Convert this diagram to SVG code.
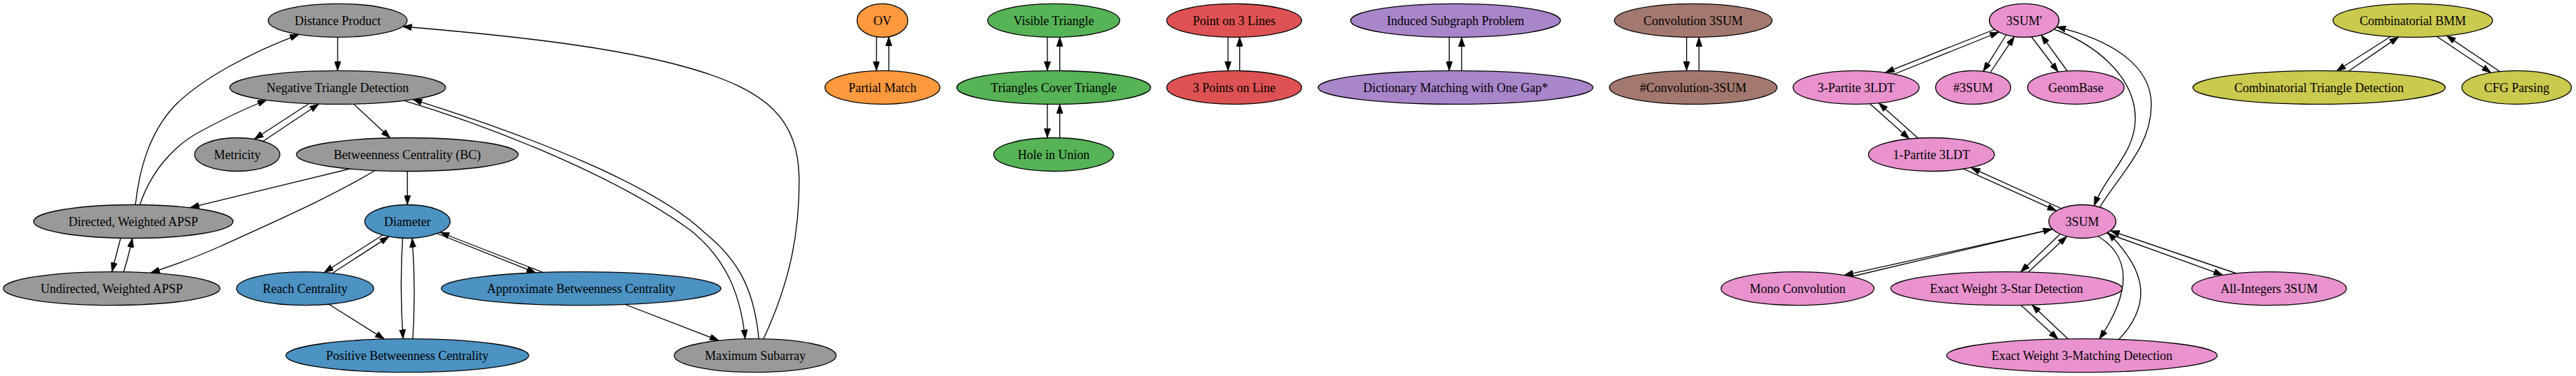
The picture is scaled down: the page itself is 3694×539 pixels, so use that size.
<svg xmlns="http://www.w3.org/2000/svg" width="3694" height="539" viewBox="0 0 3694 539">
<style>
.n ellipse{stroke:#000;stroke-width:1.33}
.n text{font-family:"Liberation Serif","Times New Roman",serif;font-size:18px;text-anchor:middle;fill:#000}
.gray ellipse{fill:#999999}.blue ellipse{fill:#4c92c3}.orange ellipse{fill:#ff993e}.green ellipse{fill:#56b356}
.red ellipse{fill:#de5253}.purple ellipse{fill:#a985ca}.brown ellipse{fill:#a3786f}.pink ellipse{fill:#e992ce}.olive ellipse{fill:#c9ca4e}
#edges path{fill:none;stroke:#000;stroke-width:1.33;marker-end:url(#ah)}
</style>
<defs>
<marker id="ah" viewBox="0 0 10 7" refX="10" refY="3.5" markerWidth="13.3" markerHeight="9.3" markerUnits="userSpaceOnUse" orient="auto">
<path d="M0,0 L10,3.5 L0,7 z" fill="#000" stroke="#000" stroke-width="0.5"/>
</marker>
</defs>
<rect width="3694" height="539" fill="#fff"/>
<g id="edges">
<path d="M484.2,40 L484.2,101.4"/>
<path d="M194,295 C200,240 215,190 250,152 C290,112 360,75 429,49.3"/>
<path d="M200,295 C215,250 245,210 290,187 C320,171 350,156 382.5,143.5"/>
<path d="M450,144 L364.6,199.5"/>
<path d="M372,206 L457.3,149"/>
<path d="M505,147 L559.5,197.8"/>
<path d="M510,240 L272.5,297.7"/>
<path d="M545,240 C480,280 400,315 316,353 C285,367 250,380 216,391.1"/>
<path d="M584.2,230 L584.2,293.5"/>
<path d="M176,330 Q168,360 160.5,389.6"/>
<path d="M174,400 Q184,370 189.8,341.5"/>
<path d="M555,333 L464.8,390.5"/>
<path d="M470,396 L557.8,339.1"/>
<path d="M465,432 L551.3,486.1"/>
<path d="M578,330 Q572.5,410 578,485.7"/>
<path d="M591.1,500 Q597,420 591.1,341.4"/>
<path d="M615,330 L768.3,390.9"/>
<path d="M790,395 L631,333"/>
<path d="M885,432 L1031,488.2"/>
<path d="M575,142.8 C700,180 880,250 990,330 C1040,370 1062,420 1068.6,485.9"/>
<path d="M1088.3,487 C1082,420 1062,375 1012,335 C940,265 760,195 592,142.6"/>
<path d="M1094.3,487 C1135,400 1146,330 1146,260 C1146,170 1100,130 990,98 C880,66 720,50 577.2,38"/>
<path d="M1256.8,40 L1256.8,101.5"/>
<path d="M1274.6,115 L1274.6,52.6"/>
<path d="M1501.9,40 L1501.9,101.5"/>
<path d="M1519.7,115 L1519.7,53.3"/>
<path d="M1501.9,135 L1501.9,197.6"/>
<path d="M1519.7,210 L1519.7,149.4"/>
<path d="M1761,40 L1761,101.5"/>
<path d="M1777.7,115 L1777.7,53.3"/>
<path d="M2078.2,40 L2078.2,101.4"/>
<path d="M2096,115 L2096,53.4"/>
<path d="M2418.6,40 L2418.6,101.4"/>
<path d="M2436.4,115 L2436.4,53.4"/>
<path d="M2866,40 L2703.3,104.1"/>
<path d="M2712,108 L2866.5,46"/>
<path d="M2880,45 L2844,102.3"/>
<path d="M2850,110 L2888.5,52.6"/>
<path d="M2905,42 L2951.4,103"/>
<path d="M2972,112 L2927.1,50.3"/>
<path d="M2675,143 L2737.9,199"/>
<path d="M2756,203 L2694.1,147.7"/>
<path d="M2800,235 L2949,302.2"/>
<path d="M2965,303 L2826.5,240.4"/>
<path d="M2940,40 C3005,62 3062,110 3062,170 C3062,220 3020,250 3003,295.1"/>
<path d="M3011,297 C3040,250 3085,210 3085,150 C3085,90 3020,55 2949,38.6"/>
<path d="M2960,325 L2644.3,394.6"/>
<path d="M2640,400 L2943,328.3"/>
<path d="M2960,330 L2897.5,389.9"/>
<path d="M2900,398 L2964,338.8"/>
<path d="M2890,430 L2951.3,486.2"/>
<path d="M2972,492 L2913.8,437.1"/>
<path d="M3002,335 C3060,365 3055,420 3010.5,486"/>
<path d="M3030,495 C3100,430 3065,375 3022.5,333.3"/>
<path d="M3020,334 L3187.6,394.3"/>
<path d="M3210,393 L3026.3,330.7"/>
<path d="M3432,50 L3350.6,101.7"/>
<path d="M3362,106 L3439.6,52.9"/>
<path d="M3488,48 L3572.2,104.2"/>
<path d="M3590,106 L3508.4,51.1"/>
</g>
<g id="dp" class="n gray"><ellipse cx="484.2" cy="29.4" rx="99.6" ry="24"/><text x="484.2" y="35.7">Distance Product</text></g>
<g id="ntd" class="n gray"><ellipse cx="484.2" cy="125.4" rx="154.7" ry="24"/><text x="484.2" y="131.7">Negative Triangle Detection</text></g>
<g id="met" class="n gray"><ellipse cx="340.2" cy="221.5" rx="61.1" ry="24"/><text x="340.2" y="227.8">Metricity</text></g>
<g id="bc" class="n gray"><ellipse cx="584.1" cy="221.5" rx="159" ry="24"/><text x="584.1" y="227.8">Betweenness Centrality (BC)</text></g>
<g id="dapsp" class="n gray"><ellipse cx="191.2" cy="317.5" rx="143" ry="24"/><text x="191.2" y="323.8">Directed, Weighted APSP</text></g>
<g id="uapsp" class="n gray"><ellipse cx="160.1" cy="413.6" rx="155.4" ry="24"/><text x="160.1" y="419.9">Undirected, Weighted APSP</text></g>
<g id="ms" class="n gray"><ellipse cx="1083" cy="509.7" rx="116.1" ry="24"/><text x="1083" y="516">Maximum Subarray</text></g>
<g id="dia" class="n blue"><ellipse cx="584.3" cy="317.5" rx="61.2" ry="24"/><text x="584.3" y="323.8">Diameter</text></g>
<g id="rc" class="n blue"><ellipse cx="437.5" cy="413.6" rx="98.3" ry="24"/><text x="437.5" y="419.9">Reach Centrality</text></g>
<g id="pbc" class="n blue"><ellipse cx="584.1" cy="509.7" rx="174.1" ry="24"/><text x="584.1" y="516">Positive Betweenness Centrality</text></g>
<g id="abc" class="n blue"><ellipse cx="833.3" cy="413.6" rx="200.5" ry="24"/><text x="833.3" y="419.9">Approximate Betweenness Centrality</text></g>
<g id="ov" class="n orange"><ellipse cx="1265.4" cy="29.4" rx="36.4" ry="24"/><text x="1265.4" y="35.7">OV</text></g>
<g id="pm" class="n orange"><ellipse cx="1265.4" cy="125.4" rx="82.4" ry="24"/><text x="1265.4" y="131.7">Partial Match</text></g>
<g id="vt" class="n green"><ellipse cx="1511" cy="29.4" rx="94.7" ry="24"/><text x="1511" y="35.7">Visible Triangle</text></g>
<g id="tct" class="n green"><ellipse cx="1511" cy="125.4" rx="139" ry="24"/><text x="1511" y="131.7">Triangles Cover Triangle</text></g>
<g id="hu" class="n green"><ellipse cx="1511" cy="221.5" rx="86" ry="24"/><text x="1511" y="227.8">Hole in Union</text></g>
<g id="p3l" class="n red"><ellipse cx="1769.8" cy="29.4" rx="96.7" ry="24"/><text x="1769.8" y="35.7">Point on 3 Lines</text></g>
<g id="tpl" class="n red"><ellipse cx="1769.8" cy="125.4" rx="96.7" ry="24"/><text x="1769.8" y="131.7">3 Points on Line</text></g>
<g id="isp" class="n purple"><ellipse cx="2087.2" cy="29.4" rx="150.5" ry="24"/><text x="2087.2" y="35.7">Induced Subgraph Problem</text></g>
<g id="dm" class="n purple"><ellipse cx="2087.2" cy="125.4" rx="197.1" ry="24"/><text x="2087.2" y="131.7">Dictionary Matching with One Gap*</text></g>
<g id="c3" class="n brown"><ellipse cx="2428.1" cy="29.4" rx="113" ry="24"/><text x="2428.1" y="35.7">Convolution 3SUM</text></g>
<g id="hc3" class="n brown"><ellipse cx="2428.1" cy="125.4" rx="120.2" ry="24"/><text x="2428.1" y="131.7">#Convolution-3SUM</text></g>
<g id="s3p" class="n pink"><ellipse cx="2902.7" cy="29.4" rx="50" ry="24"/><text x="2902.7" y="35.7">3SUM'</text></g>
<g id="p3" class="n pink"><ellipse cx="2661.7" cy="125.4" rx="90.4" ry="24"/><text x="2661.7" y="131.7">3-Partite 3LDT</text></g>
<g id="h3" class="n pink"><ellipse cx="2829.5" cy="125.4" rx="53.8" ry="24"/><text x="2829.5" y="131.7">#3SUM</text></g>
<g id="gb" class="n pink"><ellipse cx="2976.8" cy="125.4" rx="69.2" ry="24"/><text x="2976.8" y="131.7">GeomBase</text></g>
<g id="p1" class="n pink"><ellipse cx="2769.7" cy="221.5" rx="90.3" ry="24"/><text x="2769.7" y="227.8">1-Partite 3LDT</text></g>
<g id="s3" class="n pink"><ellipse cx="2986.1" cy="317.5" rx="48.1" ry="24"/><text x="2986.1" y="323.8">3SUM</text></g>
<g id="mc" class="n pink"><ellipse cx="2577.7" cy="413.6" rx="109.7" ry="24"/><text x="2577.7" y="419.9">Mono Convolution</text></g>
<g id="ews" class="n pink"><ellipse cx="2877.3" cy="413.6" rx="166" ry="24"/><text x="2877.3" y="419.9">Exact Weight 3-Star Detection</text></g>
<g id="ai" class="n pink"><ellipse cx="3253.9" cy="413.6" rx="110.9" ry="24"/><text x="3253.9" y="419.9">All-Integers 3SUM</text></g>
<g id="ewm" class="n pink"><ellipse cx="2985.5" cy="509.7" rx="194" ry="24"/><text x="2985.5" y="516">Exact Weight 3-Matching Detection</text></g>
<g id="bmm" class="n olive"><ellipse cx="3460" cy="29.4" rx="114.4" ry="24"/><text x="3460" y="35.7">Combinatorial BMM</text></g>
<g id="ctd" class="n olive"><ellipse cx="3325.6" cy="125.4" rx="181" ry="24"/><text x="3325.6" y="131.7">Combinatorial Triangle Detection</text></g>
<g id="cfg" class="n olive"><ellipse cx="3608.9" cy="125.4" rx="78.5" ry="24"/><text x="3608.9" y="131.7">CFG Parsing</text></g>
</svg>
